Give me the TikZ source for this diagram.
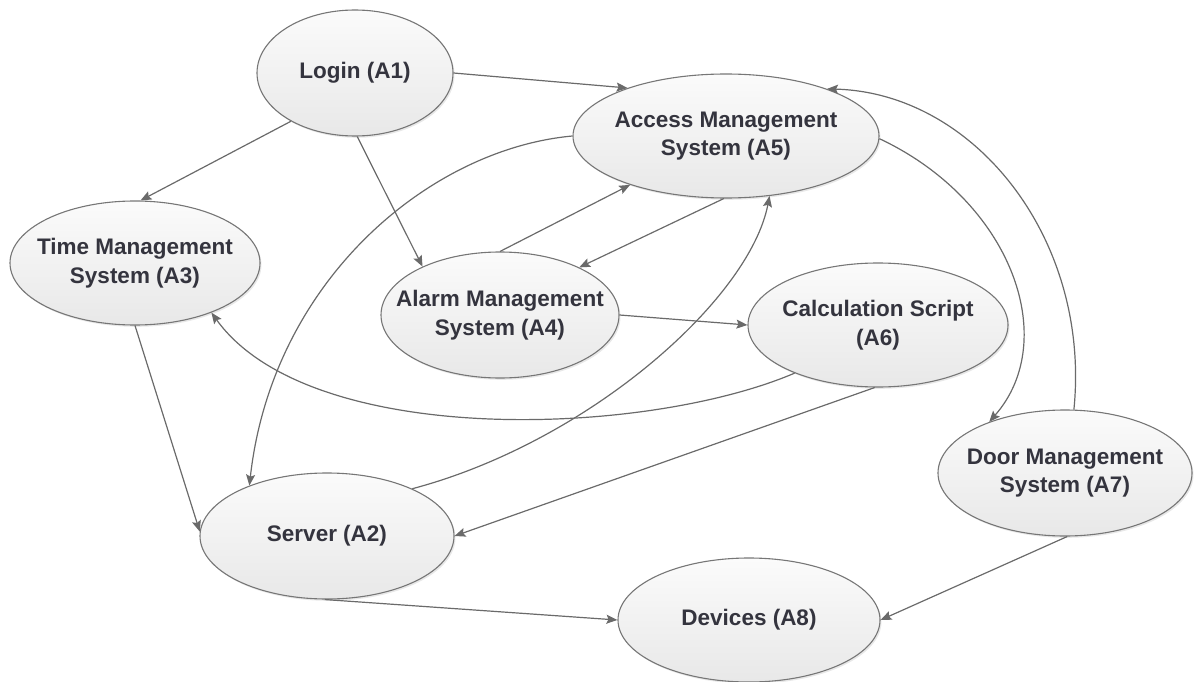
\documentclass[tikz,border=0pt]{standalone}
\usepackage{fontspec}
\setmainfont{Liberation Sans}
\usetikzlibrary{shapes.geometric,arrows.meta,shadows}

\definecolor{edgegray}{HTML}{6A6A6A}
\definecolor{rimgray}{HTML}{767676}
\definecolor{labelink}{HTML}{34343E}
\definecolor{filltop}{HTML}{FBFBFB}
\definecolor{fillbottom}{HTML}{E8E8E8}

\tikzset{
  activity/.style={ellipse, draw=rimgray, line width=1.1pt,
    top color=filltop, bottom color=fillbottom,
    drop shadow={shadow xshift=1.5pt, shadow yshift=-1.8pt, fill=black!18, opacity=.5},
    inner sep=-60pt, align=center, text=labelink,
    font=\fontsize{22.5}{28.5}\selectfont\bfseries},
  flow/.style={draw=edgegray, line width=1.2pt,
    -{Stealth[length=11pt,width=9pt,inset=2pt]}}
}

\begin{document}
\begin{tikzpicture}[x=1pt,y=-1pt]
\useasboundingbox (0,0) rectangle (1194,682);

% activities
\node[activity, minimum width=196pt, minimum height=126pt] (a1) at (355,73)  {Login (A1)};
\node[activity, minimum width=306pt, minimum height=124pt] (a5) at (726,136) {Access Management\\System (A5)};
\node[activity, minimum width=250pt, minimum height=124pt] (a3) at (135,263) {Time Management\\System (A3)};
\node[activity, minimum width=238pt, minimum height=126pt] (a4) at (500,315) {Alarm Management\\System (A4)};
\node[activity, minimum width=260pt, minimum height=124pt] (a6) at (878,325) {Calculation Script\\(A6)};
\node[activity, minimum width=254pt, minimum height=126pt] (a2) at (327,536) {Server (A2)};
\node[activity, minimum width=254pt, minimum height=126pt] (a7) at (1065,473) {Door Management\\System (A7)};
\node[activity, minimum width=262pt, minimum height=124pt] (a8) at (749,620) {Devices (A8)};

% straight flows
\draw[flow] (a1.0)    -- (a5.154.4);
\draw[flow] (a1.-143) -- (a3.85.5);
\draw[flow] (a1.-88)  -- (a4.148.5);
\draw[flow] (a4.90)   -- (a5.-153.2);
\draw[flow] (a5.-92)  -- (a4.31);
\draw[flow] (a4.-0.5) -- (a6.180);
\draw[flow] (a6.-93)  -- (a2.0);
\draw[flow] (a3.-90)  -- (a2.178);
\draw[flow] (a2.-92)  -- (a8.180);
\draw[flow] (a7.-88)  -- (a8.0);

% curved flows
\draw[flow] (a5.180)   .. controls +(-143,13) and +(23,-205) .. (a2.147.8);
\draw[flow] (a2.29.7)  .. controls +(177,-47) and +(-20,103) .. (a5.-54.2);
\draw[flow] (a6.-150.4) .. controls +(-150,64) and +(98,136) .. (a3.-33);
\draw[flow] (a5.-1)    .. controls +(132,62) and +(72,-82) .. (a7.146.5);
\draw[flow] (a7.82.8)  .. controls +(17,-170) and +(148,4) .. (a5.25.4);
\end{tikzpicture}
\end{document}
